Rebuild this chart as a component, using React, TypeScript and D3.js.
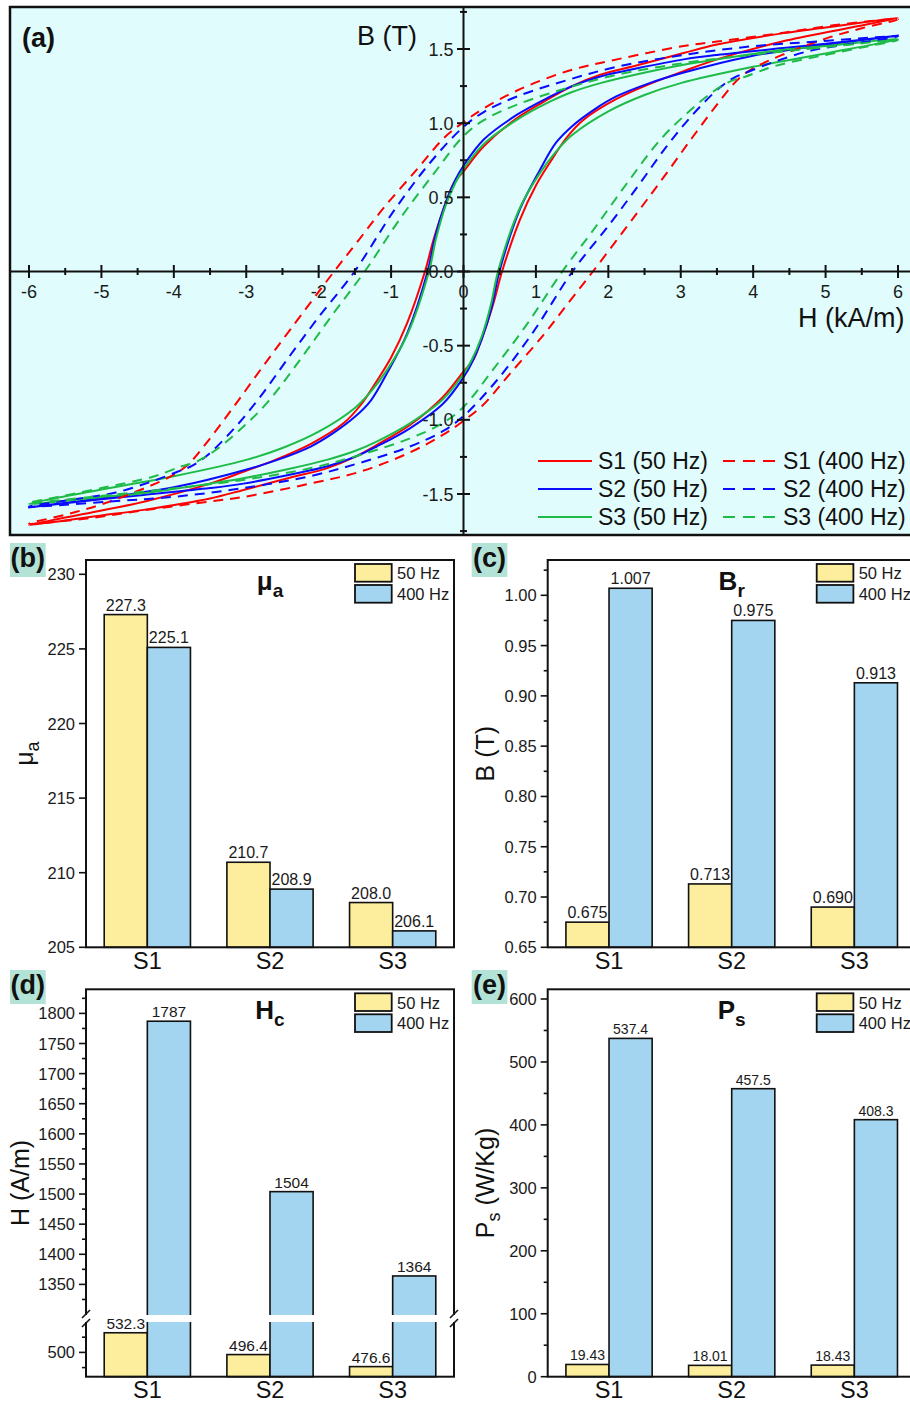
import React from 'react';
import * as d3 from 'd3';

type Pt = [number, number];

// ---------- (a) Hysteresis loops ----------
// Descending branch of each loop, H in kA/m and B in T, traced from +6 to -6 kA/m.
// The rising branch is the point reflection (H, B) -> (-H, -B) of this branch.
const s1At50Hz: Pt[] = [
  [6, 1.71], [5, 1.645], [4.42, 1.607], [3.5, 1.53], [3.04, 1.473], [2.4, 1.39],
  [1.89, 1.327], [1.5, 1.25], [1.2, 1.17], [0.74, 1.035], [0.28, 0.844], [0, 0.675],
  [-0.13, 0.6], [-0.225, 0.49], [-0.41, 0.22], [-0.532, 0], [-0.78, -0.35], [-1.0, -0.58],
  [-1.2, -0.74], [-1.42, -0.9], [-1.65, -1.02], [-2.1, -1.16], [-2.6, -1.27], [-3.04, -1.35],
  [-3.5, -1.43], [-4.4, -1.55], [-5.3, -1.64], [-6, -1.71],
];
const s2At50Hz: Pt[] = [
  [6, 1.59], [5, 1.535], [4.42, 1.506], [3.5, 1.46], [3.04, 1.43], [2.4, 1.37],
  [1.89, 1.315], [1.5, 1.25], [1.2, 1.18], [0.74, 1.057], [0.28, 0.89], [0, 0.713],
  [-0.11, 0.62], [-0.25, 0.46], [-0.39, 0.24], [-0.496, 0], [-0.78, -0.42], [-1.05, -0.68],
  [-1.28, -0.87], [-1.5, -0.98], [-1.8, -1.09], [-2.11, -1.18], [-2.57, -1.27], [-3.03, -1.34],
  [-3.95, -1.45], [-4.87, -1.52], [-6, -1.59],
];
const s3At50Hz: Pt[] = [
  [6, 1.567], [5, 1.52], [4.42, 1.495], [3.5, 1.43], [3.04, 1.394], [2.4, 1.33],
  [1.89, 1.27], [1.5, 1.21], [1.2, 1.147], [0.74, 1.024], [0.28, 0.86], [0, 0.69],
  [-0.11, 0.6], [-0.25, 0.44], [-0.38, 0.22], [-0.477, 0], [-0.78, -0.43], [-1.05, -0.66],
  [-1.28, -0.81], [-1.5, -0.92], [-2.0, -1.08], [-2.5, -1.19], [-3.0, -1.27], [-4.0, -1.38],
  [-5.0, -1.47], [-6, -1.567],
];
const s1At400Hz: Pt[] = [
  [6, 1.7], [5.2, 1.665], [4.42, 1.61], [3.5, 1.55], [3.04, 1.52], [2.12, 1.43],
  [1.43, 1.35], [0.74, 1.22], [0.28, 1.1], [0, 1.007], [-0.27, 0.9], [-0.64, 0.69],
  [-1.1, 0.43], [-1.45, 0.21], [-1.787, 0], [-2.39, -0.39], [-2.8, -0.66], [-3.17, -0.91],
  [-3.54, -1.15], [-3.8, -1.3], [-4.0, -1.37], [-4.4, -1.46], [-5.0, -1.57], [-5.5, -1.64],
  [-6, -1.7],
];
const s2At400Hz: Pt[] = [
  [6, 1.585], [4.88, 1.55], [3.96, 1.517], [3.04, 1.46], [2.12, 1.38], [1.43, 1.29],
  [0.74, 1.18], [0.28, 1.075], [0, 0.975], [-0.45, 0.74], [-0.96, 0.41], [-1.504, 0],
  [-2.02, -0.32], [-2.43, -0.59], [-2.8, -0.84], [-3.17, -1.06], [-3.54, -1.24], [-3.75, -1.31],
  [-3.95, -1.35], [-4.3, -1.415], [-4.8, -1.49], [-5.3, -1.53], [-6, -1.585],
];
const s3At400Hz: Pt[] = [
  [6, 1.56], [4.88, 1.506], [3.96, 1.46], [3.04, 1.405], [2.12, 1.327], [1.43, 1.237],
  [0.74, 1.125], [0.28, 1.02], [0, 0.913], [-0.41, 0.66], [-0.87, 0.36], [-1.364, 0],
  [-1.79, -0.278], [-2.25, -0.59], [-2.71, -0.884], [-3.08, -1.064], [-3.44, -1.21], [-3.7, -1.285],
  [-3.9, -1.315], [-4.3, -1.385], [-5.0, -1.46], [-5.6, -1.52], [-6, -1.56],
];

const loopNames = ['S1 (50 Hz)', 'S2 (50 Hz)', 'S3 (50 Hz)', 'S1 (400 Hz)', 'S2 (400 Hz)', 'S3 (400 Hz)'];
const loopBranches = [s1At50Hz, s2At50Hz, s3At50Hz, s1At400Hz, s2At400Hz, s3At400Hz];

const hTicks = [-6, -5, -4, -3, -2, -1, 0, 1, 2, 3, 4, 5, 6];
const bTicks = [-1.5, -1.0, -0.5, 0, 0.5, 1.0, 1.5];

// ---------- (b)-(e) Bar charts ----------
const samples = ['S1', 'S2', 'S3'];
const freqs = ['50 Hz', '400 Hz'];

const muA50 = [227.3, 210.7, 208.0];
const muA400 = [225.1, 208.9, 206.1];
const br50 = [0.675, 0.713, 0.69];
const br400 = [1.007, 0.975, 0.913];
const hc50 = [532.3, 496.4, 476.6];
const hc400 = [1787, 1504, 1364];
const ps50 = [19.43, 18.01, 18.43];
const ps400 = [537.4, 457.5, 408.3];

const muTicks = [205, 210, 215, 220, 225, 230];
const brTicks = [0.65, 0.7, 0.75, 0.8, 0.85, 0.9, 0.95, 1.0];
const brMinor = [0.675, 0.725, 0.775, 0.825, 0.875, 0.925, 0.975, 1.025];
const hcTicks = [500, 1350, 1400, 1450, 1500, 1550, 1600, 1650, 1700, 1750, 1800];
const hcMinor = [475, 525, 1325, 1375, 1425, 1475, 1525, 1575, 1625, 1675, 1725, 1775, 1825];
const psTicks = [0, 100, 200, 300, 400, 500, 600];
const psMinor = [50, 150, 250, 350, 450, 550];

// ---------- styles ----------
const FONT = "'Liberation Sans', Arial, Helvetica, sans-serif";
const LOOP_COLORS = ['#ff0000', '#0a0aff', '#1fbb48', '#ff0000', '#0a0aff', '#1fbb48'];
const YELLOW = '#fcee9c';
const SKY = '#a3d5f0';
const TAG_FILL = '#b3e3d6';
const TEXT = '#1a1a1a';

function HysteresisPanel() {
  const left = 10, top = 7, bottom = 535, right = 945;
  const hScale = d3.scaleLinear().domain([-6, 6]).range([29, 898]);
  const bScale = d3.scaleLinear().domain([-1.5, 1.5]).range([494, 49]);
  const x0 = hScale(0);
  const y0 = bScale(0);

  const line = d3
    .line<Pt>()
    .x((d) => hScale(d[0]))
    .y((d) => bScale(d[1]))
    .curve(d3.curveCatmullRomClosed.alpha(0.5));

  const fullLoop = (branch: Pt[]): Pt[] => {
    const rising = branch.map(([h, b]) => [-h, -b] as Pt);
    return branch.concat(rising.slice(1, -1));
  };

  const hMinor = hTicks.slice(0, -1).map((v) => v + 0.5);
  const bMinor = [-1.75, ...bTicks.map((v) => v + 0.25)];

  const legendRows = [0, 1, 2];
  const rowY = [461, 489, 517];

  return (
    <g>
      <defs>
        <clipPath id="clipA">
          <rect x={left} y={top} width={right - left} height={bottom - top} />
        </clipPath>
      </defs>
      <rect x={left} y={top} width={right - left} height={bottom - top} fill="#e0fcfc" stroke="#111" strokeWidth={2.5} />
      <g clipPath="url(#clipA)">
        {loopBranches.map((br, i) => (
          <path
            key={loopNames[i]}
            d={line(fullLoop(br)) || ''}
            fill="none"
            stroke={LOOP_COLORS[i]}
            strokeWidth={2}
            strokeDasharray={i >= 3 ? '10,7' : undefined}
          />
        ))}
      </g>
      {/* axes through the origin */}
      <line x1={left} x2={right} y1={y0} y2={y0} stroke="#111" strokeWidth={2} />
      <line x1={x0} x2={x0} y1={top} y2={bottom} stroke="#111" strokeWidth={2} />
      {hTicks.map((v) => (
        <line key={'hx' + v} x1={hScale(v)} x2={hScale(v)} y1={y0 - 6.5} y2={y0 + 6.5} stroke="#111" strokeWidth={2} />
      ))}
      {hMinor.map((v) => (
        <line key={'hm' + v} x1={hScale(v)} x2={hScale(v)} y1={y0 - 3.5} y2={y0 + 3.5} stroke="#111" strokeWidth={2} />
      ))}
      {bTicks.map((v) => (
        <line key={'by' + v} x1={x0 - 6.5} x2={x0 + 6.5} y1={bScale(v)} y2={bScale(v)} stroke="#111" strokeWidth={2} />
      ))}
      {bMinor.map((v) => (
        <line key={'bm' + v} x1={x0 - 3.5} x2={x0 + 3.5} y1={bScale(v)} y2={bScale(v)} stroke="#111" strokeWidth={2} />
      ))}
      {hTicks.map((v) => (
        <text key={'hl' + v} x={hScale(v)} y={298} textAnchor="middle" fontSize={18} fill={TEXT} fontFamily={FONT}>
          {String(v)}
        </text>
      ))}
      {bTicks.map((v) => (
        <text key={'bl' + v} x={x0 - 10} y={bScale(v) + 6.5} textAnchor="end" fontSize={18} fill={TEXT} fontFamily={FONT}>
          {v.toFixed(1)}
        </text>
      ))}
      <text x={22} y={47} fontSize={27} fontWeight="bold" fill="#111" fontFamily={FONT}>(a)</text>
      <text x={357} y={45} fontSize={27} fill="#111" fontFamily={FONT}>B (T)</text>
      <text x={798} y={327} fontSize={27} fill="#111" fontFamily={FONT}>H (kA/m)</text>
      {/* legend */}
      {legendRows.map((r) => (
        <g key={'lg' + r}>
          <line x1={538} x2={592} y1={rowY[r]} y2={rowY[r]} stroke={LOOP_COLORS[r]} strokeWidth={2} />
          <text x={598} y={rowY[r] + 8} fontSize={23} fill="#111" fontFamily={FONT}>{loopNames[r]}</text>
          <line x1={723} x2={775} y1={rowY[r]} y2={rowY[r]} stroke={LOOP_COLORS[r + 3]} strokeWidth={2} strokeDasharray="12,8" />
          <text x={783} y={rowY[r] + 8} fontSize={23} fill="#111" fontFamily={FONT}>{loopNames[r + 3]}</text>
        </g>
      ))}
    </g>
  );
}

type BarPanelProps = {
  left: number;
  top: number;
  bottom: number;
  y: (v: number) => number;
  v50: number[];
  v400: number[];
  f50: (v: number) => string;
  f400: (v: number) => string;
  valueSize: number;
  major: number[];
  minor: number[];
  tickFmt: (v: number) => string;
  title: string;
  titleSub: string;
  yTitle: React.ReactNode;
  yTitleOffset: number;
  tag: string;
  tagTop: number;
  children?: React.ReactNode;
};

function BarPanel(p: BarPanelProps) {
  const { left, top, bottom, y } = p;
  const width = 368;
  const band = d3.scaleBand<string>().domain(samples).range([left, left + width]);
  const groupW = band.bandwidth() * 0.703;
  const inner = d3.scaleBand<string>().domain(freqs).range([0, groupW]);
  const series = [p.v50, p.v400];
  const fills = [YELLOW, SKY];
  const fmts = [p.f50, p.f400];
  const midY = (top + bottom) / 2;
  const tagLeft = left - 76;
  const barX = (s: string, f: string) =>
    (band(s) as number) + (band.bandwidth() - groupW) / 2 + (inner(f) as number);

  return (
    <g fontFamily={FONT}>
      {samples.map((s, i) =>
        freqs.map((f, k) => {
          const yt = y(series[k][i]);
          return (
            <rect key={s + f} x={barX(s, f)} y={yt} width={inner.bandwidth()} height={bottom - yt}
              fill={fills[k]} stroke="#111" strokeWidth={1.6} />
          );
        })
      )}
      <rect x={left} y={top} width={width} height={bottom - top} fill="none" stroke="#111" strokeWidth={2} />
      {p.major.map((v) => (
        <g key={'mj' + v}>
          <line x1={left - 7} x2={left} y1={y(v)} y2={y(v)} stroke="#111" strokeWidth={1.6} />
          <text x={left - 11} y={y(v) + 6} textAnchor="end" fontSize={16.5} fill={TEXT}>
            {p.tickFmt(v)}
          </text>
        </g>
      ))}
      {p.minor.map((v) => (
        <line key={'mn' + v} x1={left - 4} x2={left} y1={y(v)} y2={y(v)} stroke="#111" strokeWidth={1.6} />
      ))}
      {p.children}
      {samples.map((s, i) =>
        freqs.map((f, k) => (
          <text key={'v' + s + f} x={barX(s, f) + inner.bandwidth() / 2} y={y(series[k][i]) - 4}
            textAnchor="middle" fontSize={p.valueSize} fill={TEXT}>
            {fmts[k](series[k][i])}
          </text>
        ))
      )}
      {samples.map((s) => (
        <text key={'c' + s} x={(band(s) as number) + band.bandwidth() / 2} y={bottom + 21.5} textAnchor="middle" fontSize={23.5} fill="#111">
          {s}
        </text>
      ))}
      <text x={left + 184} y={top + 30} textAnchor="middle" fontSize={26} fontWeight="bold" fill="#111">
        <tspan>{p.title}</tspan>
        <tspan dy={7} fontSize={19}>{p.titleSub}</tspan>
      </text>
      {freqs.map((f, k) => (
        <g key={'lg' + f}>
          <rect x={left + 269} y={top + 4 + k * 21} width={36.7} height={17.7} fill={fills[k]} stroke="#111" strokeWidth={1.8} />
          <text x={left + 311} y={top + 19.3 + k * 20.7} fontSize={16.5} fill={TEXT}>{f}</text>
        </g>
      ))}
      <text
        transform={`translate(${left - p.yTitleOffset},${midY}) rotate(-90)`}
        textAnchor="middle"
        fontSize={25}
        fill="#111"
      >
        {p.yTitle}
      </text>
      <rect x={tagLeft} y={p.tagTop} width={35.7} height={34} fill={TAG_FILL} />
      <text x={tagLeft + 17.8} y={p.tagTop + 24} textAnchor="middle" fontSize={27} fontWeight="bold" fill="#111">
        {p.tag}
      </text>
    </g>
  );
}

export default function App() {
  const leftCol = 86;
  const rightCol = 547.7;
  const rowTop1 = 560, rowBot1 = 947.3;
  const rowTop2 = 989.3, rowBot2 = 1376.7;

  const yMu = d3.scaleLinear().domain([205, 231]).range([rowBot1, rowBot1 - 26 * 14.92]);
  const yBr = d3.scaleLinear().domain([0.65, 1.035]).range([rowBot1, rowBot1 - 0.385 * 1005.7]);
  const yPs = d3.scaleLinear().domain([0, 615]).range([rowBot2, rowBot2 - 615 * 0.6295]);

  // Coercive field: broken axis with a low segment and a high segment.
  const gapTop = 1315, gapBot = 1322;
  const yHcLow = d3.scaleLinear().domain([460, 550]).range([rowBot2, gapBot]);
  const yHcHigh = d3.scaleLinear().domain([1300, 1840]).range([gapTop - 0.5, rowTop2]);
  const yHc = (v: number) => (v >= 1300 ? yHcHigh(v) : yHcLow(v));

  const slash = (x: number, yy: number, key: string) => (
    <line key={key} x1={x - 4} y1={yy + 4} x2={x + 4} y2={yy - 4} stroke="#111" strokeWidth={1.6} />
  );

  return (
    <svg
      width={910}
      height={1404}
      viewBox="0 0 910 1404"
      style={{ position: 'absolute', left: 0, top: 0, background: '#fff' }}
      fontFamily={FONT}
    >
      <rect x={0} y={0} width={910} height={1404} fill="#fff" />
      <HysteresisPanel />

      <BarPanel
        left={leftCol} top={rowTop1} bottom={rowBot1} y={yMu}
        v50={muA50} v400={muA400}
        f50={(v) => v.toFixed(1)} f400={(v) => v.toFixed(1)} valueSize={16}
        major={muTicks} minor={[]} tickFmt={(v) => String(v)}
        title="μ" titleSub="a"
        yTitle={<><tspan>μ</tspan><tspan dy={6} fontSize={18}>a</tspan></>}
        yTitleOffset={53}
        tag="(b)" tagTop={543}
      />

      <BarPanel
        left={rightCol} top={rowTop1} bottom={rowBot1} y={yBr}
        v50={br50} v400={br400}
        f50={(v) => v.toFixed(3)} f400={(v) => v.toFixed(3)} valueSize={16}
        major={brTicks} minor={brMinor} tickFmt={(v) => v.toFixed(2)}
        title="B" titleSub="r"
        yTitle="B (T)"
        yTitleOffset={54}
        tag="(c)" tagTop={543}
      />

      <BarPanel
        left={leftCol} top={rowTop2} bottom={rowBot2} y={yHc}
        v50={hc50} v400={hc400}
        f50={(v) => v.toFixed(1)} f400={(v) => v.toFixed(0)} valueSize={15.5}
        major={hcTicks} minor={hcMinor} tickFmt={(v) => String(v)}
        title="H" titleSub="c"
        yTitle="H (A/m)"
        yTitleOffset={57}
        tag="(d)" tagTop={970}
      >
        <rect x={leftCol - 3} y={gapTop} width={368 + 6} height={gapBot - gapTop} fill="#fff" />
        {slash(leftCol, gapTop - 1, 'sl1')}
        {slash(leftCol, gapBot + 1, 'sl2')}
        {slash(leftCol + 368, gapTop - 1, 'sr1')}
        {slash(leftCol + 368, gapBot + 1, 'sr2')}
      </BarPanel>

      <BarPanel
        left={rightCol} top={rowTop2} bottom={rowBot2} y={yPs}
        v50={ps50} v400={ps400}
        f50={(v) => v.toFixed(2)} f400={(v) => v.toFixed(1)} valueSize={14}
        major={psTicks} minor={psMinor} tickFmt={(v) => String(v)}
        title="P" titleSub="s"
        yTitle={<><tspan>P</tspan><tspan dy={6} fontSize={18}>s</tspan><tspan dy={-6}> (W/Kg)</tspan></>}
        yTitleOffset={54}
        tag="(e)" tagTop={970}
      />
    </svg>
  );
}
